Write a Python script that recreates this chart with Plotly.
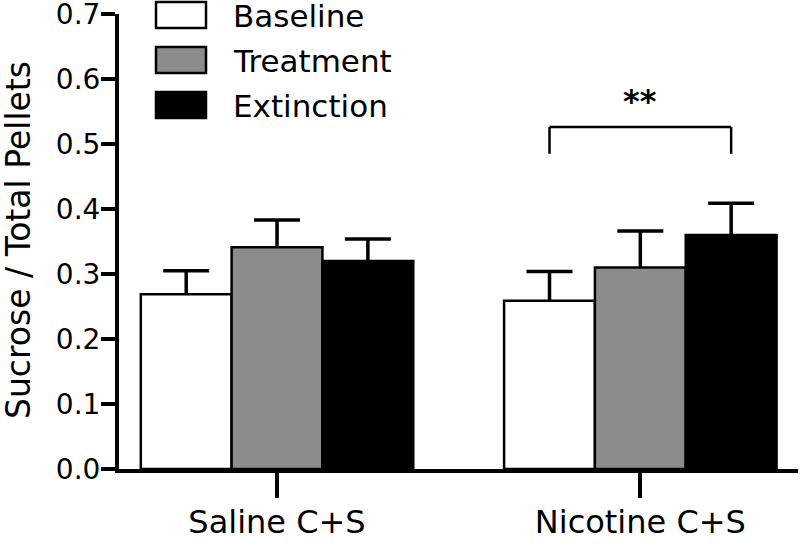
import plotly.graph_objects as go

# ---- data ----
groups = ["Saline C+S", "Nicotine C+S"]
series_names = ["Baseline", "Treatment", "Extinction"]
baseline = [0.269, 0.259]
treatment = [0.341, 0.310]
extinction = [0.320, 0.360]
baseline_sem = [0.036, 0.045]
treatment_sem = [0.042, 0.056]
extinction_sem = [0.034, 0.049]
y_ticks = [0.0, 0.1, 0.2, 0.3, 0.4, 0.5, 0.6, 0.7]
sig_label = "**"
sig_y = 0.526
sig_drop = 0.485

# ---- styling ----
W, H = 800, 554
ML, MR, MT, MB = 119, 2, 14, 85
PW, PH = W - ML - MR, H - MT - MB
FONT = "DejaVu Sans"
fills = ["#ffffff", "#8c8c8c", "#000000"]


def px_x(px):
    return (px - ML) / PW


def px_y(py):
    return (H - MB - py) / PH


fig = go.Figure()
values = [baseline, treatment, extinction]
sems = [baseline_sem, treatment_sem, extinction_sem]
for i, (name, vals, err, col) in enumerate(zip(series_names, values, sems, fills)):
    # error bars carried by a transparent bar in the same slot, drawn underneath
    fig.add_trace(go.Bar(
        x=groups, y=vals, name=name + " SEM", offsetgroup=str(i),
        marker=dict(color="rgba(0,0,0,0)", line=dict(width=0)),
        error_y=dict(type="data", array=err, symmetric=True,
                     color="black", thickness=3.5, width=23),
        showlegend=False, hoverinfo="skip",
    ))
    fig.add_trace(go.Bar(
        x=groups, y=vals, name=name, offsetgroup=str(i),
        marker=dict(color=col, line=dict(color="black", width=2.5)),
        showlegend=False,
    ))

# significance bracket (category index positions)
x_left = 1 - 0.25
x_right = 1 + 0.25
fig.add_shape(type="line", xref="x", yref="y", x0=x_left, x1=x_left, y0=sig_drop, y1=sig_y,
              line=dict(color="black", width=2.5))
fig.add_shape(type="line", xref="x", yref="y", x0=x_right, x1=x_right, y0=sig_drop, y1=sig_y,
              line=dict(color="black", width=2.5))
fig.add_shape(type="line", xref="x", yref="y", x0=x_left, x1=x_right, y0=sig_y, y1=sig_y,
              line=dict(color="black", width=2.5))
fig.add_annotation(x=1, y=sig_y + 0.008, xref="x", yref="y", text="<b>" + sig_label + "</b>",
                   showarrow=False,
                   font=dict(family=FONT, size=32, color="black"), yanchor="bottom")

# manual legend
leg_centers = [15, 60, 105]
for name, col, cy in zip(series_names, fills, leg_centers):
    fig.add_shape(type="rect", xref="paper", yref="paper",
                  x0=px_x(156), x1=px_x(206), y0=px_y(cy + 13), y1=px_y(cy - 13),
                  fillcolor=col, line=dict(color="black", width=2.5))
    fig.add_annotation(x=px_x(231), y=px_y(cy + 1), xref="paper", yref="paper", text=name,
                       showarrow=False, xanchor="left", yanchor="middle",
                       font=dict(family=FONT, size=31, color="black"))

# y axis title
fig.add_annotation(x=px_x(18), y=px_y(240), xref="paper", yref="paper",
                   text="Sucrose / Total Pellets", textangle=-90, showarrow=False,
                   xanchor="center", yanchor="middle",
                   font=dict(family=FONT, size=33, color="black"))

fig.update_layout(
    width=W, height=H,
    margin=dict(l=ML, r=MR, t=MT, b=MB, autoexpand=False),
    paper_bgcolor="white", plot_bgcolor="white",
    barmode="group", bargap=0.25, bargroupgap=0,
    font=dict(family=FONT, color="black"),
)
fig.update_xaxes(
    range=[-0.435, 1.434], showline=True, linewidth=4, linecolor="black",
    ticks="outside", ticklen=25, tickwidth=4, tickcolor="black",
    showgrid=False, zeroline=False, ticklabelstandoff=-3,
    tickfont=dict(family=FONT, size=32, color="black"),
)
fig.update_yaxes(
    range=[0, 0.7], tickvals=y_ticks, ticktext=[f"{v:.1f}" for v in y_ticks],
    showline=True, linewidth=4, linecolor="black",
    ticks="outside", ticklen=14, tickwidth=4, tickcolor="black",
    showgrid=False, zeroline=False, ticklabeloverflow="allow", ticklabelstandoff=-5,
    tickfont=dict(family=FONT, size=28, color="black"),
)

fig.write_html("out.html", config={"displayModeBar": False},
               post_script="document.body.style.margin='0';")
